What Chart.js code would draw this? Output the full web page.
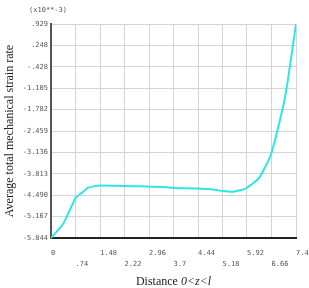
<!DOCTYPE html>
<html><head><meta charset="utf-8">
<script src="https://cdn.jsdelivr.net/npm/chart.js@4"></script>
<style>html,body{margin:0;padding:0;background:#fff;}canvas{display:block;}</style>
</head><body>
<canvas id="c" width="309" height="288"></canvas>
<script>
const distance = [0, 0.37, 0.74, 0.95, 1.11, 1.28, 1.48, 2.2, 2.7, 3.4, 3.7, 4.4, 4.9, 5.2, 5.5, 5.86, 6.29, 6.64, 7.0, 7.14, 7.4];
const strainRate = [-5.844, -5.39, -4.58, -4.40, -4.26, -4.21, -4.18, -4.20, -4.21, -4.23, -4.26, -4.28, -4.31, -4.36, -4.38, -4.29, -3.94, -3.21, -1.73, -0.94, 0.929];
const xTickValues = [0, 0.74, 1.48, 2.22, 2.96, 3.7, 4.44, 5.18, 5.92, 6.66, 7.4];
const xTickLabels = ["0", ".74", "1.48", "2.22", "2.96", "3.7", "4.44", "5.18", "5.92", "6.66", "7.4"];
const yTickValues = [-5.844, -5.167, -4.490, -3.813, -3.136, -2.459, -1.782, -1.105, -0.428, 0.248, 0.929];
const yTickLabels = ["-5.844", "-5.167", "-4.490", "-3.813", "-3.136", "-2.459", "-1.782", "-1.105", "-.428", ".248", ".929"];
const yTitle = "Average total mechanical strain rate";
const xTitleA = "Distance ";
const xTitleB = "0<z<l";
const multiplier = "(x10**-3)";

const titles = {
  id: 'titles',
  afterDraw(chart) {
    const ctx = chart.ctx, a = chart.chartArea;
    ctx.save();
    ctx.fillStyle = '#222';
    ctx.font = '12px "Liberation Serif"';
    ctx.textBaseline = 'middle';
    ctx.textAlign = 'left';
    const wA = ctx.measureText(xTitleA).width;
    ctx.font = 'italic 12px "Liberation Serif"';
    const wB = ctx.measureText(xTitleB).width;
    const cx = (a.left + a.right) / 2;
    let x0 = cx - (wA + wB) / 2;
    ctx.font = '12px "Liberation Serif"';
    ctx.fillText(xTitleA, x0, 282);
    ctx.font = 'italic 12px "Liberation Serif"';
    ctx.fillText(xTitleB, x0 + wA, 282);
    ctx.translate(10, (a.top + a.bottom) / 2);
    ctx.rotate(-Math.PI / 2);
    ctx.textAlign = 'center';
    ctx.font = '12px "Liberation Serif"';
    ctx.fillText(yTitle, 0, 0);
    ctx.restore();
    ctx.save();
    ctx.font = '7px "DejaVu Sans Mono"';
    ctx.fillStyle = '#555';
    ctx.textAlign = 'center';
    ctx.textBaseline = 'middle';
    ctx.fillText(multiplier, 48, 10);
    ctx.restore();
  }
};

new Chart(document.getElementById('c'), {
  type: 'line',
  data: {
    datasets: [{
      data: distance.map((d, i) => ({x: d, y: strainRate[i]})),
      borderColor: '#2ee6e6',
      borderWidth: 2,
      pointRadius: 0,
      tension: 0.15,
      fill: false
    }]
  },
  options: {
    responsive: false,
    animation: false,
    events: [],
    layout: {padding: {left: 0, right: 13, top: 24, bottom: 0}},
    plugins: {legend: {display: false}, tooltip: {enabled: false}},
    scales: {
      x: {
        type: 'linear',
        min: 0, max: 7.4,
        afterBuildTicks: s => { s.ticks = xTickValues.map(v => ({value: v})); },
        afterFit: s => { s.height = 50; s.paddingLeft = 0; s.paddingRight = 0; },
        grid: {color: '#d4d4d4', lineWidth: 1, drawTicks: false},
        border: {color: '#222', width: 2},
        ticks: {
          autoSkip: false, maxRotation: 0, align: 'start', padding: 10,
          font: {family: '"DejaVu Sans Mono"', size: 7, lineHeight: 1.55},
          color: '#555',
          callback: (v, i) => i % 2 === 0 ? xTickLabels[i] : ['', xTickLabels[i]]
        }
      },
      y: {
        min: -5.844, max: 0.929,
        afterBuildTicks: s => { s.ticks = yTickValues.map(v => ({value: v})); },
        afterFit: s => { s.width = 51; s.paddingTop = 0; s.paddingBottom = 0; },
        grid: {color: '#d4d4d4', lineWidth: 1, drawTicks: false},
        border: {color: '#555', width: 2},
        ticks: {
          padding: 3,
          font: {family: '"DejaVu Sans Mono"', size: 7},
          color: '#555',
          callback: (v, i) => yTickLabels[i]
        }
      }
    }
  },
  plugins: [titles]
});
</script>
</body></html>
